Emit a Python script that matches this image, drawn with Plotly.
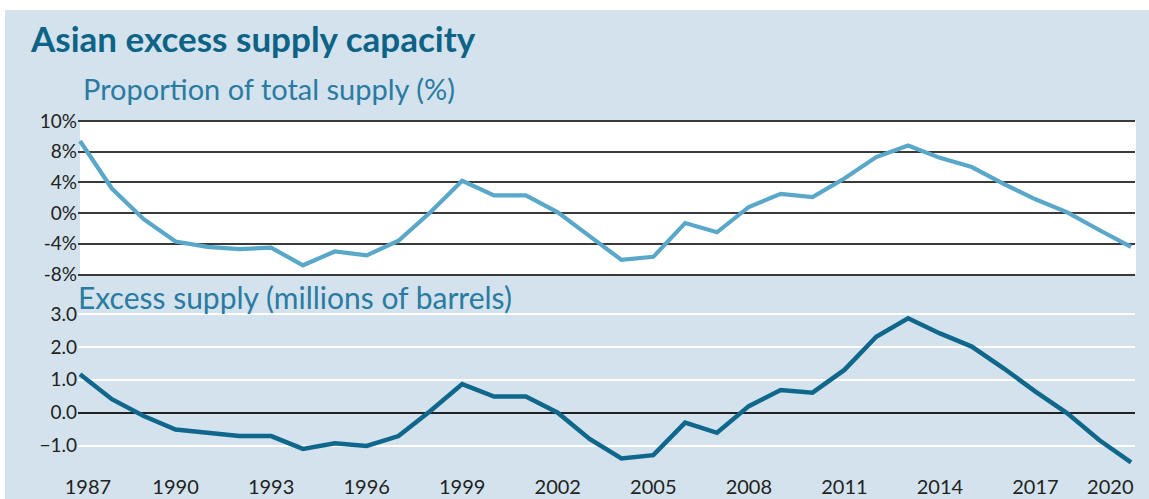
import plotly.graph_objects as go

years = list(range(1987, 2021))
proportion_pct = [9.4, 3.2, -0.8, -3.7, -4.4, -4.7, -4.5, -6.8, -5.0, -5.5,
                  -3.6, 0.1, 4.2, 2.3, 2.3, 0.1, -3.0, -6.1, -5.7, -1.3,
                  -2.5, 0.8, 2.5, 2.1, 4.5, 7.3, 8.8, 7.2, 6.0, 3.8,
                  1.8, 0.1, -2.2, -4.4]
excess_mbbl = [1.17, 0.41, -0.10, -0.51, -0.61, -0.71, -0.71, -1.10, -0.93, -1.01,
               -0.71, 0.05, 0.87, 0.49, 0.49, 0.0, -0.80, -1.39, -1.29, -0.30,
               -0.61, 0.20, 0.69, 0.61, 1.30, 2.31, 2.87, 2.41, 2.01, 1.35,
               0.64, -0.02, -0.83, -1.51]

top_tickvals = [-8, -4, 0, 4, 8, 12]
top_ticktext = ["-8%", "-4%", "0%", "4%", "8%", "10%"]
bot_tickvals = [-1, 0, 1, 2, 3]
x_ticklabels = [1987, 1990, 1993, 1996, 1999, 2002, 2005, 2008, 2011, 2014, 2017, 2020]

title = "Asian excess supply capacity"
sub1 = "Proportion of total supply (%)"
sub2 = "Excess supply (millions of barrels)"

W, H = 1149, 499
BOTTOM_PX = 468
L, R, T, B = 78, 14, 119, H - BOTTOM_PX
PW = W - L - R
PH = H - T - B

def px(xp):
    return (xp - L) / PW

def py(yp):
    return (H - B - yp) / PH

BG = "#d3e2ec"
FONT = "Lato, 'Open Sans', sans-serif"

# label positions: edge labels nudged inward so they stay inside the frame
x_tickpos = [float(v) for v in x_ticklabels]
x_tickpos[0] += 0.25
x_tickpos[-1] -= 0.65

fig = go.Figure()
fig.add_trace(go.Scatter(x=years, y=proportion_pct, mode="lines",
                         line=dict(color="#5aa8c9", width=4.2),
                         xaxis="x", yaxis="y", hoverinfo="skip", showlegend=False))
fig.add_trace(go.Scatter(x=years, y=excess_mbbl, mode="lines",
                         line=dict(color="#0f678c", width=4.5),
                         xaxis="x2", yaxis="y2", hoverinfo="skip", showlegend=False))

xr = [1986.937, 2020.125]
top_ppu = (274.5 - 121) / 20.0
top_lo_px, top_hi_px = 278.0, 119.0
top_range = [-8 - (top_lo_px - 274.5) / top_ppu, 12 + (121 - top_hi_px) / top_ppu]
top_dom = [py(top_lo_px), py(top_hi_px)]
bot_dom = [0.0, py(300)]
bot_range = [(412.7 - BOTTOM_PX) / 32.9, (412.7 - 300) / 32.9]

fig.update_layout(
    width=W, height=H,
    margin=dict(l=L, r=R, t=T, b=B, pad=0, autoexpand=False),
    paper_bgcolor="white",
    plot_bgcolor="rgba(0,0,0,0)",
    showlegend=False,
    xaxis=dict(domain=[0, 1], range=xr, showticklabels=False, showgrid=False,
               zeroline=False, showline=False, anchor="y", fixedrange=True),
    yaxis=dict(domain=top_dom, range=top_range, tickvals=top_tickvals,
               ticktext=top_ticktext, showgrid=True, gridcolor="#3a3a3a", gridwidth=1.7,
               zeroline=False, showline=False, ticks="", anchor="x",
               tickfont=dict(family=FONT, size=19, color="#222222")),
    xaxis2=dict(domain=[0, 1], range=xr, tickvals=x_tickpos,
                ticktext=[str(v) for v in x_ticklabels], showgrid=False,
                zeroline=False, showline=False, anchor="y2",
                ticks="outside", ticklen=1, tickcolor="rgba(0,0,0,0)",
                tickfont=dict(family=FONT, size=20, color="#222222")),
    yaxis2=dict(domain=bot_dom, range=bot_range,
                tickvals=bot_tickvals, tickformat=".1f",
                showgrid=True, gridcolor="white", gridwidth=2.4,
                zeroline=True, zerolinecolor="#222222", zerolinewidth=1.5,
                showline=False, ticks="", anchor="x2",
                tickfont=dict(family=FONT, size=19, color="#222222")),
    shapes=[
        dict(type="rect", xref="paper", yref="paper", x0=px(5), x1=px(W + 5),
             y0=py(H + 5), y1=py(10), fillcolor=BG, line=dict(width=0), layer="below"),
        dict(type="rect", xref="paper", yref="y", x0=px(80), x1=px(1136),
             y0=top_tickvals[0], y1=top_tickvals[-1],
             fillcolor="white", line=dict(width=0), layer="below"),
    ],
    annotations=[
        dict(text="<b>" + title + "</b>", xref="paper", yref="paper", x=px(28), y=py(38),
             xanchor="left", yanchor="middle", showarrow=False,
             font=dict(family=FONT, size=35, color="#0d6386")),
        dict(text=sub1, xref="paper", yref="paper", x=px(81), y=py(89),
             xanchor="left", yanchor="middle", showarrow=False,
             font=dict(family=FONT, size=29, color="#2a7ba3")),
        dict(text=sub2, xref="paper", yref="paper", x=px(76), y=py(297),
             xanchor="left", yanchor="middle", showarrow=False,
             font=dict(family=FONT, size=30, color="#2a7ba3")),
    ],
)

fig.write_html(
    "out.html",
    config={"displayModeBar": False},
    post_script="document.body.style.margin='0px';document.body.style.overflow='hidden';",
)
